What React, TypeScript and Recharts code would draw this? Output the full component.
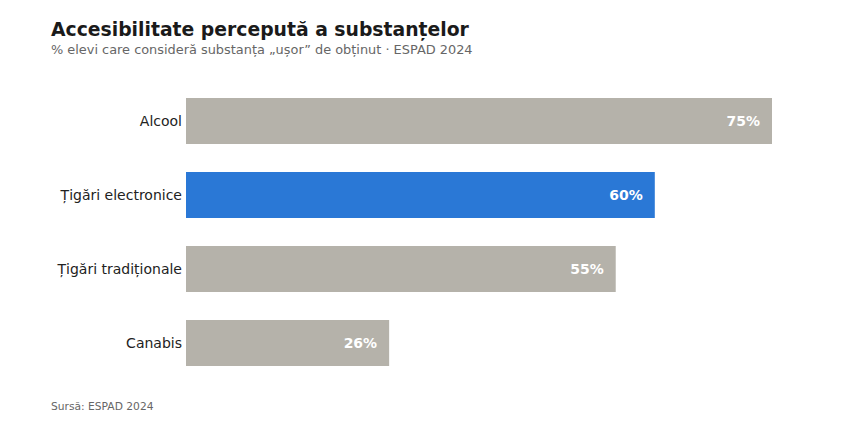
import { BarChart, Bar, XAxis, YAxis, Cell, LabelList } from "recharts";

// Substances and share of students who say they are "easy" to get
const substances = ["Alcool", "Țigări electronice", "Țigări tradiționale", "Canabis"];
const shares = [75, 60, 55, 26];
const highlighted = "Țigări electronice";

const data = substances.map((name, i) => ({ name, value: shares[i] }));

const FONT = "'DejaVu Sans', sans-serif";

const App = () => {
  return (
    <div style={{ position: "absolute", left: 0, top: 0, width: 845, height: 422, fontFamily: FONT, background: "#fff" }}>
      <div style={{ position: "absolute", left: 51, top: 20.5, fontSize: 18.8, lineHeight: "18.8px", fontWeight: "bold", color: "#1a1a1a", whiteSpace: "nowrap" }}>
        Accesibilitate percepută a substanțelor
      </div>
      <div style={{ position: "absolute", left: 51, top: 43, fontSize: 12.9, lineHeight: "13px", color: "#666", whiteSpace: "nowrap" }}>
        % elevi care consideră substanța „ușor” de obținut · ESPAD 2024
      </div>
      <div style={{ position: "absolute", left: 0, top: 0 }}>
        <BarChart
          width={845}
          height={422}
          data={data}
          layout="vertical"
          margin={{ top: 84, right: 73, bottom: 42, left: 0 }}
        >
          <XAxis type="number" domain={[0, 75]} hide />
          <YAxis
            type="category"
            dataKey="name"
            width={186}
            axisLine={false}
            tickLine={false}
            tickSize={0}
            tickMargin={4}
            tick={{ fill: "#222", fontSize: 14, fontFamily: FONT }}
          />
          <Bar dataKey="value" barSize={46} isAnimationActive={false}>
            {data.map((d) => (
              <Cell key={d.name} fill={d.name === highlighted ? "#2a78d6" : "#b5b2aa"} />
            ))}
            <LabelList
              dataKey="value"
              position="insideRight"
              offset={12}
              formatter={(v: number) => `${v}%`}
              fill="#fff"
              fontSize={14}
              fontWeight="bold"
              fontFamily={FONT}
            />
          </Bar>
        </BarChart>
      </div>
      <div style={{ position: "absolute", left: 51, top: 400.5, fontSize: 10.7, lineHeight: "11px", color: "#666", whiteSpace: "nowrap" }}>
        Sursă: ESPAD 2024
      </div>
    </div>
  );
};

export default App;
